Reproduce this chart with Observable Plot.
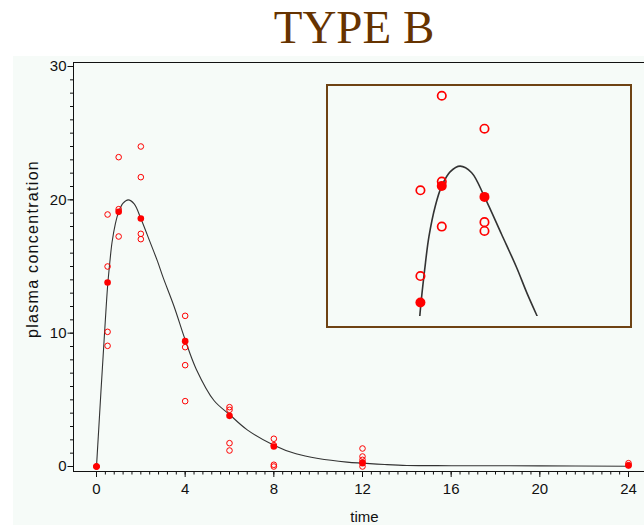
<!DOCTYPE html>
<html>
<head>
<meta charset="utf-8">
<script src="https://cdn.jsdelivr.net/npm/d3@7"></script>
<script src="https://cdn.jsdelivr.net/npm/@observablehq/plot@0.6"></script>
<style>
  html, body { margin: 0; padding: 0; background: #fff; }
  #page { position: relative; width: 644px; height: 525px; overflow: hidden; background: #fff;
          font-family: "Liberation Sans", Arial, sans-serif; }
  #panel { position: absolute; left: 13px; top: 56px; right: 0; bottom: 0; background: #f6fbf8; }
  #title { position: absolute; left: 354px; top: 4px; transform: translateX(-50%); white-space: nowrap;
           font-family: "Liberation Serif", "Times New Roman", serif; font-size: 47px; line-height: 47px;
           color: #663300; }
  #main { position: absolute; left: 0; top: 0; width: 660px; height: 525px; }
  #inset { position: absolute; left: 326px; top: 84px; width: 302px; height: 240px;
           border: 2px solid #6e4314; background: #f6fbf8; }
  #inset svg, #main svg { display: block; max-width: none; }
</style>
</head>
<body>
<div id="page">
  <div id="panel"></div>
  <div id="title">TYPE B</div>
  <div id="main"></div>
  <div id="inset"></div>
</div>
<script>
// Sampling times (h) and mean plasma concentration at each time
const times = [0, 0.5, 1, 2, 4, 6, 8, 12, 24];
const meanConc = [0, 13.8, 19.1, 18.6, 9.4, 3.8, 1.5, 0.25, 0.08];

// Individual subject observations (time, concentration)
const obsTime = [0, 0,
  0.5, 0.5, 0.5, 0.5,
  1, 1, 1,
  2, 2, 2, 2,
  4, 4, 4, 4,
  6, 6, 6, 6,
  8, 8, 8, 8,
  12, 12, 12, 12, 12,
  24, 24];
const obsConc = [0, 0,
  18.9, 15.0, 10.1, 9.05,
  23.2, 19.3, 17.25,
  24.0, 21.7, 17.45, 17.05,
  11.3, 8.95, 7.6, 4.9,
  4.45, 4.25, 1.75, 1.2,
  2.08, 1.6, 0.13, 0.0,
  1.35, 0.75, 0.5, 0.3, 0.0,
  0.25, 0.1];

// Fitted concentration-time curve
const fitTime = [0, 0.1, 0.2, 0.3, 0.4, 0.5, 0.6, 0.7, 0.85, 1.0, 1.2, 1.43, 1.7, 2.0, 2.4, 2.75,
  3.0, 3.5, 4.0, 4.5, 5.3, 6.0, 6.8, 8.0, 9.0, 10.0, 11.3, 12.0, 13.0, 14.0, 16.0, 20.0, 24.0];
const fitConc = [0, 2.8, 5.6, 8.3, 11.0, 13.5, 15.3, 16.8, 18.2, 19.1, 19.75, 20.0, 19.7, 18.6, 16.9, 15.4,
  14.2, 12.0, 9.5, 7.3, 4.95, 3.9, 2.75, 1.6, 0.95, 0.6, 0.33, 0.25, 0.15, 0.08, 0.06, 0.05, 0.02];

// Axis ticks
const xTicks = [0, 4, 8, 12, 16, 20, 24];
const yTicks = [0, 10, 20, 30];
const xMinor = d3.range(0, 61).map(i => i * 0.4);
const yMinor = d3.range(0, 31);
const yTitle = "plasma concentration";
const xTitle = "time";

const means = times.map((t, i) => ({t, c: meanConc[i]}));
const obs = obsTime.map((t, i) => ({t, c: obsConc[i]}));
const fit = fitTime.map((t, i) => ({t, c: fitConc[i]}));

const red = "#ff0000";
const ink = "#111";

const main = Plot.plot({
  width: 660,
  height: 525,
  marginTop: 62,
  marginBottom: 54,
  marginLeft: 73,
  marginRight: 0,
  style: {background: "transparent", fontFamily: "'Liberation Sans', Arial, sans-serif", fontSize: "15px", color: ink},
  x: {domain: [-1.0376, 25.4436], label: null},
  y: {domain: [-0.375, 30.3], label: null},
  marks: [
    Plot.frame({stroke: ink, strokeWidth: 1}),
    Plot.axisY({ticks: yMinor, tickSize: 3, tickFormat: () => "", label: null}),
    Plot.axisY({ticks: yTicks, tickSize: 5.5, tickPadding: 1.5, fontSize: 15, label: null}),
    Plot.axisX({ticks: xMinor, tickSize: 3.5, tickFormat: () => "", label: null}),
    Plot.axisX({ticks: xTicks, tickSize: 6, tickPadding: 6, fontSize: 15, label: null}),
    Plot.line(fit, {x: "t", y: "c", curve: "catmull-rom", stroke: "#333", strokeWidth: 1.1}),
    Plot.dot(means, {x: "t", y: "c", r: 3.3, fill: red, stroke: "none"}),
    Plot.dot(obs, {x: "t", y: "c", r: 2.8, fill: "none", stroke: red, strokeWidth: 1}),
    Plot.text([yTitle], {frameAnchor: "left", textAnchor: "middle", dx: -41, dy: -18, rotate: -90, fontSize: 16, fill: ink}),
    Plot.text([xTitle], {frameAnchor: "bottom", textAnchor: "middle", dx: -2.5, dy: 50, fontSize: 15, fill: ink})
  ]
});
// slightly open letter spacing on the vertical axis title
for (const t of main.querySelectorAll("text")) {
  if (t.textContent === yTitle) t.style.letterSpacing = "1.3px";
}
document.getElementById("main").appendChild(main);

// Magnified view around the peak
const inset = Plot.plot({
  width: 302,
  height: 240,
  marginTop: 0,
  marginBottom: 10,
  marginLeft: 0,
  marginRight: 0,
  style: {background: "transparent"},
  x: {domain: [-1.653, 5.42], axis: null},
  y: {domain: [13.16, 23.62], axis: null},
  marks: [
    Plot.line(fit, {x: "t", y: "c", curve: "catmull-rom", stroke: "#333", strokeWidth: 1.6, clip: true}),
    Plot.dot(means, {x: "t", y: "c", r: 5, fill: red, stroke: "none", clip: true}),
    Plot.dot(obs, {x: "t", y: "c", r: 4.2, fill: "none", stroke: red, strokeWidth: 1.7, clip: true})
  ]
});
document.getElementById("inset").appendChild(inset);
</script>
</body>
</html>
